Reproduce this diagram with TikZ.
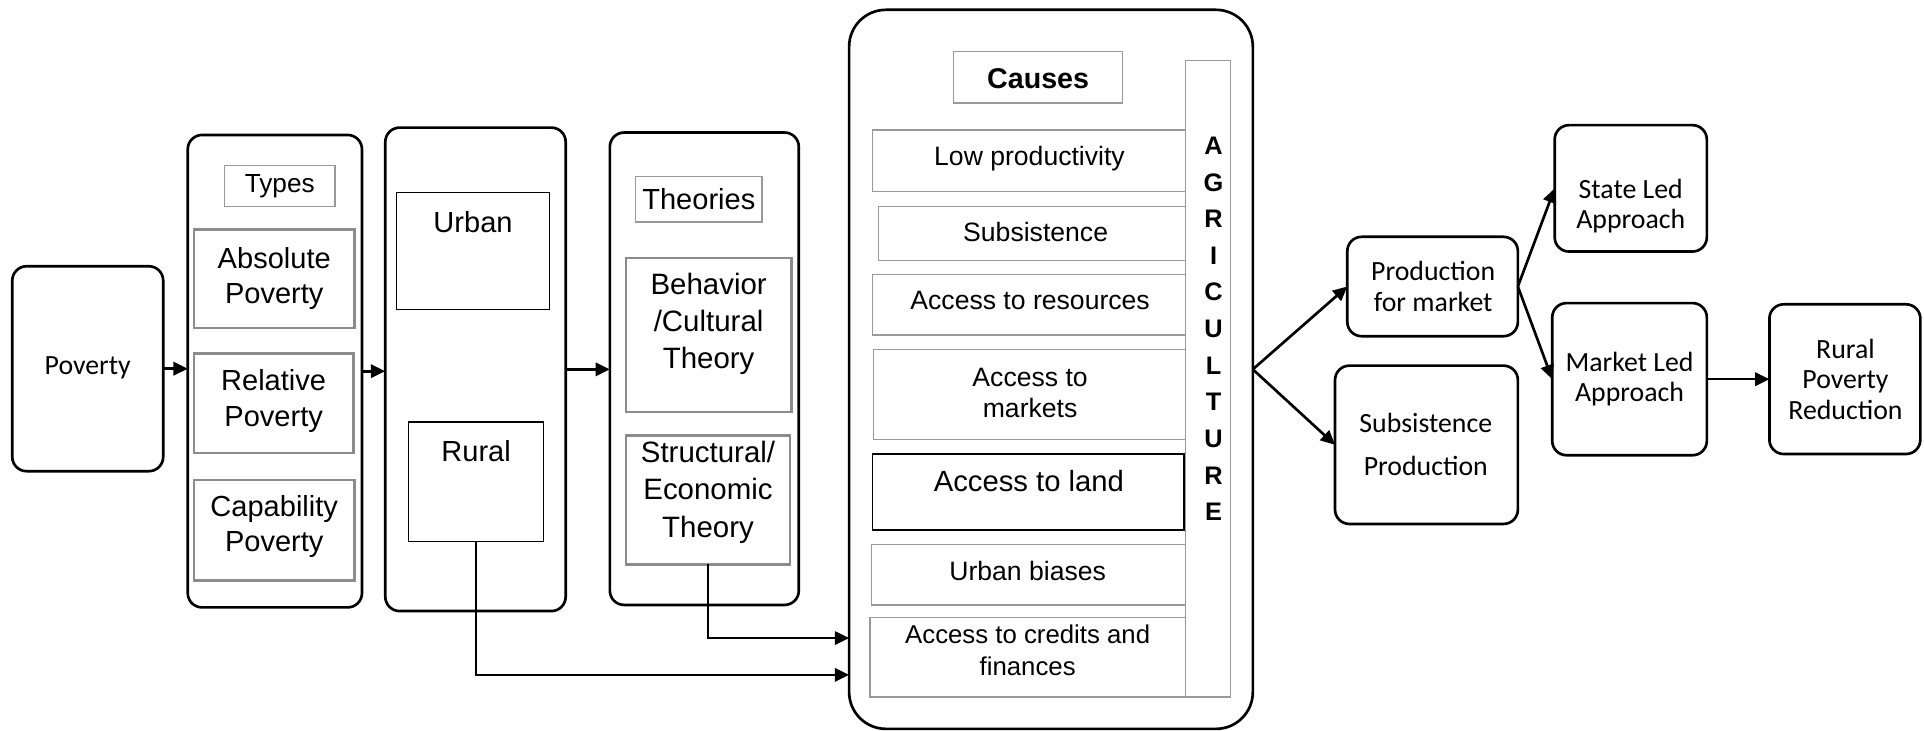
\documentclass[tikz,border=0pt]{standalone}
\usepackage{fontspec}
\setmainfont{Liberation Sans}
\newfontfamily\carl{Carlito}
\usetikzlibrary{arrows.meta}
\newcommand\bx[6]{\node[#6, minimum width={(#4-#2)*0.6pt}, minimum height={(#5-#3)*0.6pt}] (#1) at ({(#2+#4)/2},{(#3+#5)/2}) {};}
\tikzset{
  base/.style={inner sep=0pt, outer sep=0pt, rectangle},
  outer/.style={base, draw=black, line width=1.3pt, rounded corners=7pt},
  bigouter/.style={base, draw=black, line width=1.3pt, rounded corners=18pt},
  graybox/.style={base, draw=black!45, line width=1.1pt},
  thingray/.style={base, draw=black!40, line width=0.6pt},
  thinblack/.style={base, draw=black, line width=0.6pt},
  landbox/.style={base, draw=black, line width=0.8pt},
  txt/.style={inner sep=0pt, align=center},
  arial/.style={txt, font=\fontsize{14.2}{17.4}\selectfont},
  item/.style={txt, font=\fontsize{13}{15}\selectfont},
  cal/.style={txt, font=\carl\fontsize{13.6}{15}\selectfont},
  arr/.style={-{Triangle[length=7pt,width=6.5pt]}, line width=1.3pt},
}
\begin{document}
\begin{tikzpicture}[x=0.6pt, y=-0.6pt]
\useasboundingbox (0,0) rectangle (1568,595);
% left part
\bx{pov}{10}{217}{133}{384}{outer}
\node[cal] (povt) at (71.5,300) {Poverty};
\bx{types}{153}{110}{295}{495}{outer}
\bx{typesl}{183}{135}{273}{168}{thingray}
\node[txt, font=\fontsize{12.8}{15}\selectfont] (typest) at (228,152) {Types};
\bx{abs}{158}{187}{289}{267}{graybox}
\node[arial] (abst) at (223.5,227) {Absolute\\Poverty};
\bx{rel}{158}{288}{288}{369}{graybox}
\node[arial] (relt) at (223,327) {Relative\\Poverty};
\bx{cap}{158}{391}{289}{473}{graybox}
\node[arial] (capt) at (223.5,429) {Capability\\Poverty};
\bx{ur}{314}{104}{461}{498}{outer}
\bx{urban}{323}{157}{448}{252}{thinblack}
\node[arial] (urbant) at (385.5,181) {Urban};
\bx{rural}{333}{344}{443}{441}{thinblack}
\node[arial] (ruralt) at (388,368) {Rural};
\bx{th}{497}{108}{651}{493}{outer}
\bx{thl}{518}{144}{621}{181}{thingray}
\node[arial] (tht) at (569.5,162) {Theories};
\bx{beh}{510}{210}{645}{336}{graybox}
\node[txt, font=\fontsize{14.4}{18}\selectfont] (beht) at (577.5,264) {Behavior\\/Cultural\\Theory};
\bx{str}{510}{355}{644}{460}{graybox}
\node[txt, font=\fontsize{14.4}{18.4}\selectfont] (strt) at (577,401) {Structural/\\Economic\\Theory};
% causes
\bx{cz}{692}{8}{1021}{594}{bigouter}
\bx{czl}{777}{42}{915}{84}{thingray}
\node[txt, font=\bfseries\fontsize{14}{16}\selectfont] (czt) at (846,64) {Causes};
\bx{c1}{711}{106}{966}{156}{thingray}
\node[item] (c1t) at (839,129) {Low productivity};
\bx{c2}{716}{168}{966}{212}{thingray}
\node[item] (c2t) at (844,189) {Subsistence};
\bx{c3}{711}{224}{966}{273}{thingray}
\node[item] (c3t) at (839.5,245) {Access to resources};
\bx{c4}{712}{285}{966}{358}{thingray}
\node[item] (c4t) at (839.5,320) {Access to\\markets};
\bx{c5}{711}{370}{965}{432}{landbox}
\node[txt, font=\fontsize{14.3}{16}\selectfont] (c5t) at (838.5,392) {Access to land};
\bx{c6}{710}{444}{966}{493}{thingray}
\node[item] (c6t) at (837.5,465) {Urban biases};
\bx{c7}{709}{503}{966}{568}{thingray}
\node[txt, font=\fontsize{12.6}{15.6}\selectfont] (c7t) at (837.5,530) {Access to credits and\\finances};
\bx{agr}{966}{49}{1003}{568}{thingray}
\node[txt, font=\bfseries\fontsize{12.4}{17.9}\selectfont] (agrt) at (989,268) {A\\G\\R\\I\\C\\U\\L\\T\\U\\R\\E};
% right part
\bx{pfm}{1098}{193}{1237}{274}{outer}
\node[cal] (pfmt) at (1168,233.5) {Production\\for market};
\bx{sp}{1088}{298}{1237}{427}{outer}
\node[txt, font=\carl\fontsize{13.6}{21}\selectfont] (spt) at (1162,362) {Subsistence\\Production};
\bx{sl}{1267}{102}{1391}{205}{outer}
\node[cal] (slt) at (1329,168) {State Led\\Approach};
\bx{ml}{1265}{247}{1391}{371}{outer}
\node[cal] (mlt) at (1328,309) {Market Led\\Approach};
\bx{rpr}{1442}{248}{1565}{370}{outer}
\node[cal] (rprt) at (1504,309) {Rural\\Poverty\\Reduction};
% connectors
\coordinate (k1) at (600,520);
\coordinate (k2) at (500,550);
\draw[arr] (pov.east) -- (pov.east -| types.west);
\draw[arr] (types.east) -- (types.east -| ur.west);
\draw[arr] (ur.east) -- (ur.east -| th.west);
\draw[arr] (str.south) |- (k1 -| cz.west);
\draw[arr] (rural.south) |- (k2 -| cz.west);
\draw[arr] (cz.east) -- (pfm.west);
\draw[arr] (cz.east) -- (sp.west);
\draw[arr] (pfm.east) -- (sl.west);
\draw[arr] (pfm.east) -- (ml.west);
\draw[arr] (ml.east) -- (ml.east -| rpr.west);
\end{tikzpicture}
\end{document}
